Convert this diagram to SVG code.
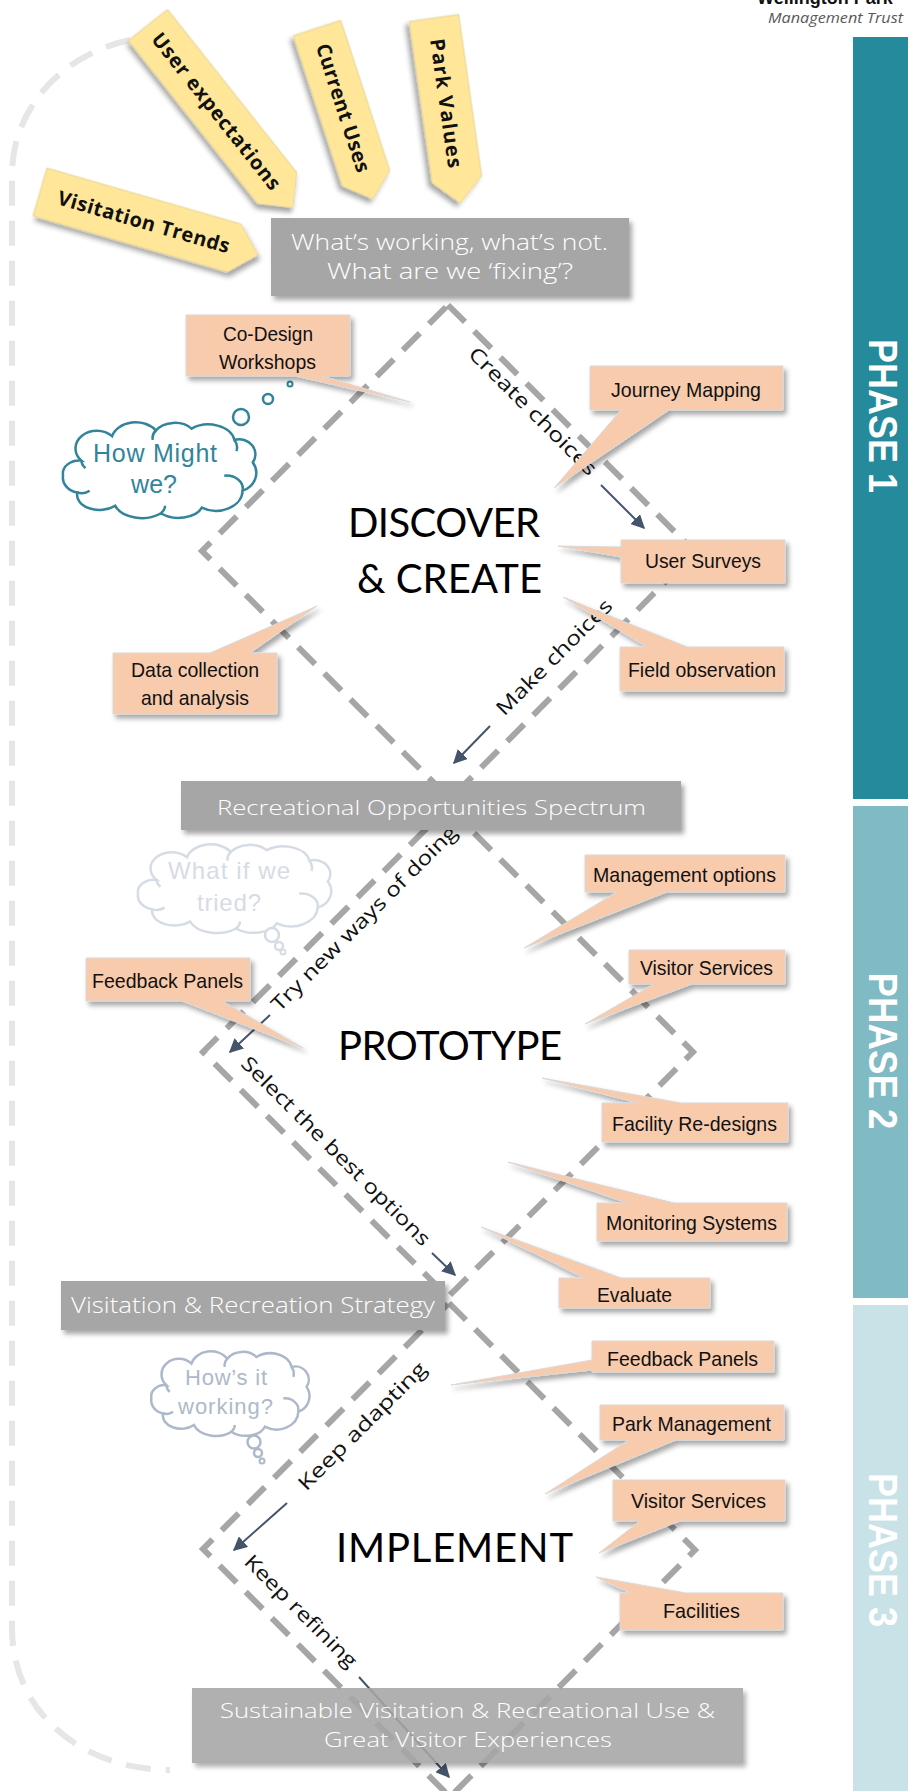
<svg xmlns="http://www.w3.org/2000/svg" width="908" height="1791" viewBox="0 0 908 1791">
<defs>
<style>
.gbox{fill:#A6A6A6;filter:url(#sh);}
.gtxt{fill:#FFFFFF;font-family:"Open Sans","Lato","Liberation Sans",sans-serif;font-weight:300;text-anchor:middle;}
.call{fill:#F8CBAD;stroke:#D9D9D9;stroke-width:1;filter:url(#sh);}
.ctxt{fill:#111;font-family:"Liberation Sans Narrow","Liberation Sans",Arial,sans-serif;font-size:21px;text-anchor:middle;}
.yel{fill:#FFE699;stroke:#E0D090;stroke-width:0.8;filter:url(#sh);}
.ytxt{fill:#111;font-family:"Open Sans","Liberation Sans",sans-serif;font-weight:700;font-size:20px;text-anchor:middle;}
.dia{fill:none;stroke:#A6A6A6;stroke-width:6;stroke-dasharray:24 13;}
.outer{fill:none;stroke:#E7E6E6;stroke-width:6;stroke-dasharray:25 15;}
.arr{fill:none;stroke:#44546A;stroke-width:2;marker-end:url(#ah);}
.dtxt{fill:#111;font-family:"Open Sans","Lato",sans-serif;font-size:20px;text-anchor:middle;}
.big{fill:#000;font-family:"Lato","Open Sans",sans-serif;font-size:40px;text-anchor:middle;}
.ptxt{fill:#FFFFFF;font-family:"Liberation Sans",Arial,sans-serif;font-weight:700;font-size:40px;text-anchor:middle;}
.cloudtxt{font-family:"Liberation Sans",Arial,sans-serif;text-anchor:middle;}
</style>
<filter id="sh" x="-20%" y="-30%" width="140%" height="170%">
<feDropShadow dx="3" dy="4" stdDeviation="2.5" flood-color="#000" flood-opacity="0.35"/>
</filter>
<marker id="ah" viewBox="0 0 10 10" refX="9" refY="5" markerWidth="7" markerHeight="7" orient="auto">
<path d="M0,0 L10,5 L0,10 Z" fill="#44546A"/>
</marker>
<g id="cloud">
<path vector-effect="non-scaling-stroke" fill="#FFFFFF" d="M22,40 A20,18 0 0 1 52,14 A24,20 0 0 1 95,8 A22,18 0 0 1 130,6 A26,20 0 0 1 172,18 A16,16 0 0 1 190,42 A20,20 0 0 1 180,72 A26,22 0 0 1 140,90 A24,16 0 0 1 100,96 A28,20 0 0 1 55,88 A22,16 0 0 1 18,74 A18,16 0 0 1 4,56 A16,14 0 0 1 22,40 Z"/>
<path vector-effect="non-scaling-stroke" fill="none" d="M22,40 A14,12 0 0 0 26,48 M95,8 A14,12 0 0 0 92,18 M172,18 A14,14 0 0 1 174,30 M180,72 A16,14 0 0 0 162,56 M100,96 A14,12 0 0 0 104,88 M18,74 A12,10 0 0 0 30,72"/>
</g>
</defs>

<rect x="0" y="0" width="908" height="1791" fill="#FFFFFF"/>

<!-- header -->
<g id="header">
<text x="757" y="4" font-family="Liberation Sans, Arial, sans-serif" font-weight="700" font-size="18" fill="#111">Wellington Park</text>
<text x="768" y="23" font-family="Open Sans, Liberation Sans, sans-serif" font-style="italic" font-size="15" fill="#595959" textLength="135" lengthAdjust="spacingAndGlyphs">Management Trust</text>
</g>

<!-- phase bars -->
<g id="phase1"><rect x="853" y="37" width="55" height="762" fill="#258A9C"/>
<text class="ptxt" transform="translate(869,416) rotate(90)" textLength="154" lengthAdjust="spacingAndGlyphs">PHASE 1</text></g>
<g id="phase2"><rect x="853" y="806" width="55" height="492" fill="#80BAC4"/>
<text class="ptxt" transform="translate(869,1051) rotate(90)" textLength="157" lengthAdjust="spacingAndGlyphs">PHASE 2</text></g>
<g id="phase3"><rect x="853" y="1305" width="55" height="486" fill="#C8E2E7"/>
<text class="ptxt" transform="translate(869,1550) rotate(90)" textLength="154" lengthAdjust="spacingAndGlyphs">PHASE 3</text></g>

<!-- outer loop -->
<path class="outer" d="M130,40 C60,55 12,110 12,175 L12,1630 C14,1720 90,1770 170,1770"/>

<!-- clouds -->
<g id="cloud-how-might">
<use href="#cloud" transform="translate(59,423) scale(1.02,0.94)" stroke="#31849B" stroke-width="2.5"/>
<circle cx="241" cy="417" r="8" fill="#fff" stroke="#31849B" stroke-width="2.5"/>
<circle cx="268" cy="399" r="5" fill="#fff" stroke="#31849B" stroke-width="2.5"/>
<circle cx="290" cy="384" r="2.5" fill="#fff" stroke="#31849B" stroke-width="2"/>
<text class="cloudtxt" x="155" y="462" font-size="25" fill="#31849B" textLength="124">How Might</text>
<text class="cloudtxt" x="154" y="493" font-size="25" fill="#31849B" textLength="46">we?</text>
</g>
<g id="cloud-what-if">
<use href="#cloud" transform="translate(134,845) scale(1.02,0.87)" stroke="#D6DCE5" stroke-width="2.5"/>
<circle cx="272" cy="935" r="7" fill="#fff" stroke="#D6DCE5" stroke-width="2.5"/>
<circle cx="279" cy="946" r="4" fill="#fff" stroke="#D6DCE5" stroke-width="2.5"/>
<circle cx="283" cy="952" r="2.5" fill="#fff" stroke="#D6DCE5" stroke-width="2"/>
<text class="cloudtxt" x="229" y="879" font-size="24" fill="#D6DCE5" textLength="122">What if we</text>
<text class="cloudtxt" x="229" y="911" font-size="24" fill="#D6DCE5" textLength="64">tried?</text>
</g>
<g id="cloud-hows-it">
<use href="#cloud" transform="translate(148,1352) scale(0.835,0.83)" stroke="#ADB9CA" stroke-width="2.5"/>
<circle cx="254" cy="1442" r="6.5" fill="#fff" stroke="#ADB9CA" stroke-width="2.5"/>
<circle cx="258" cy="1453" r="4" fill="#fff" stroke="#ADB9CA" stroke-width="2.5"/>
<circle cx="262" cy="1461" r="2.5" fill="#fff" stroke="#ADB9CA" stroke-width="2"/>
<text class="cloudtxt" x="226" y="1385" font-size="22" fill="#ADB9CA" textLength="82">How’s it</text>
<text class="cloudtxt" x="225.5" y="1414" font-size="22" fill="#ADB9CA" textLength="95">working?</text>
</g>

<!-- diamonds and flow arrows -->
<g id="connectors">
<polygon class="dia" points="448,305 695,552 450,799 202,551"/>
<polygon class="dia" points="448,807 693,1052 448,1297 203,1052"/>
<polygon class="dia" points="449,1303 695,1550 450,1797 203,1549"/>
<line class="arr" x1="601" y1="485" x2="644" y2="528"/>
<line class="arr" x1="490" y1="726" x2="454" y2="763"/>
<line class="arr" x1="270" y1="1015" x2="230" y2="1052"/>
<line class="arr" x1="432" y1="1253" x2="455" y2="1275"/>
<line class="arr" x1="287" y1="1503" x2="234" y2="1550"/>
<line class="arr" x1="359" y1="1677" x2="449" y2="1777"/>
<text class="dtxt" transform="translate(528,416) rotate(45)" textLength="172" lengthAdjust="spacingAndGlyphs">Create choices</text>
<text class="dtxt" transform="translate(559,662) rotate(-45)" textLength="155" lengthAdjust="spacingAndGlyphs">Make choices</text>
<text class="dtxt" transform="translate(369,923) rotate(-45)" textLength="253" lengthAdjust="spacingAndGlyphs">Try new ways of doing</text>
<text class="dtxt" transform="translate(331,1156) rotate(45)" textLength="258" lengthAdjust="spacingAndGlyphs">Select the best options</text>
<text class="dtxt" transform="translate(367,1431) rotate(-45)" textLength="172" lengthAdjust="spacingAndGlyphs">Keep adapting</text>
<text class="dtxt" transform="translate(296,1616) rotate(45)" textLength="150" lengthAdjust="spacingAndGlyphs">Keep refining</text>
</g>

<!-- yellow input arrows -->
<g id="user-expectations" transform="translate(148,25) rotate(51.6)">
<polygon class="yel" points="0,-25 208,-25 233,0 208,25 0,25"/>
<text class="ytxt" x="110" y="7" textLength="194">User expectations</text>
</g>
<g id="current-uses" transform="translate(317,28) rotate(71.9)">
<polygon class="yel" points="0,-25 158,-25 180,0 158,25 0,25"/>
<text class="ytxt" x="84" y="7" textLength="134">Current Uses</text>
</g>
<g id="park-values" transform="translate(434,18) rotate(81.9)">
<polygon class="yel" points="0,-25 163,-25 187,0 163,25 0,25"/>
<text class="ytxt" x="86" y="7" textLength="130">Park Values</text>
</g>
<g id="visitation-trends" transform="translate(40,192) rotate(16.1)">
<polygon class="yel" points="0,-25 202,-25 227,0 202,25 0,25"/>
<text class="ytxt" x="108" y="7" textLength="178">Visitation Trends</text>
</g>

<!-- gray stage boxes -->
<g id="whats-working">
<rect class="gbox" x="271" y="218" width="358" height="78"/>
<text class="gtxt" x="449.5" y="250" font-size="22" textLength="317" lengthAdjust="spacingAndGlyphs">What’s working, what’s not.</text>
<text class="gtxt" x="450" y="279" font-size="22" textLength="246" lengthAdjust="spacingAndGlyphs">What are we ‘fixing’?</text>
</g>
<g id="ros">
<rect class="gbox" x="181" y="781" width="500" height="49"/>
<text class="gtxt" x="431.5" y="815" font-size="21" textLength="429" lengthAdjust="spacingAndGlyphs">Recreational Opportunities Spectrum</text>
</g>
<g id="strategy">
<rect class="gbox" x="61" y="1281" width="384" height="49"/>
<text class="gtxt" x="253" y="1313" font-size="22" textLength="364" lengthAdjust="spacingAndGlyphs">Visitation &amp; Recreation Strategy</text>
</g>
<g id="sustainable">
<rect class="gbox" x="192" y="1688" width="551" height="75" opacity="0.88"/>
<text class="gtxt" x="467.5" y="1718" font-size="21" textLength="495" lengthAdjust="spacingAndGlyphs">Sustainable Visitation &amp; Recreational Use &amp;</text>
<text class="gtxt" x="468" y="1747" font-size="21" textLength="288" lengthAdjust="spacingAndGlyphs">Great Visitor Experiences</text>
</g>

<!-- stage titles -->
<g id="discover">
<text class="big" x="444" y="537" textLength="192">DISCOVER</text>
<text class="big" x="449.5" y="593" textLength="185">&amp; CREATE</text>
</g>
<g id="prototype"><text class="big" x="450" y="1060" textLength="224">PROTOTYPE</text></g>
<g id="implement"><text class="big" x="454.5" y="1562" textLength="237">IMPLEMENT</text></g>

<!-- callouts -->
<g id="co-design">
<path class="call" d="M186,315 H350 V376 H322 L410,402 L295,376 H186 Z"/>
<text class="ctxt" x="268" y="341" textLength="90" lengthAdjust="spacingAndGlyphs">Co-Design</text>
<text class="ctxt" x="267.5" y="369" textLength="97" lengthAdjust="spacingAndGlyphs">Workshops</text>
</g>
<g id="journey-mapping">
<path class="call" d="M590,366 H783 V410 H669 L554,488 L621,410 H590 Z"/>
<text class="ctxt" x="686" y="397" textLength="150" lengthAdjust="spacingAndGlyphs">Journey Mapping</text>
</g>
<g id="user-surveys">
<path class="call" d="M621,540 H785 V583 H621 V557 L558,546 L621,547 Z"/>
<text class="ctxt" x="703" y="568" textLength="116" lengthAdjust="spacingAndGlyphs">User Surveys</text>
</g>
<g id="field-observation">
<path class="call" d="M620,647 H647 L563,597 L687,647 H784 V691 H620 Z"/>
<text class="ctxt" x="702" y="677" textLength="148" lengthAdjust="spacingAndGlyphs">Field observation</text>
</g>
<g id="data-collection">
<path class="call" d="M113,653 H210 L317,606 L250,653 H277 V714 H113 Z"/>
<text class="ctxt" x="195" y="677" textLength="128" lengthAdjust="spacingAndGlyphs">Data collection</text>
<text class="ctxt" x="195" y="705" textLength="108" lengthAdjust="spacingAndGlyphs">and analysis</text>
</g>
<g id="management-options">
<path class="call" d="M585,855 H785 V892 H667 L524,948 L617,892 H585 Z"/>
<text class="ctxt" x="684.5" y="882" textLength="183" lengthAdjust="spacingAndGlyphs">Management options</text>
</g>
<g id="visitor-services-2">
<path class="call" d="M629,950 H785 V984 H692 L585,1024 L654,984 H629 Z"/>
<text class="ctxt" x="706.5" y="975" textLength="133" lengthAdjust="spacingAndGlyphs">Visitor Services</text>
</g>
<g id="facility-redesigns">
<path class="call" d="M602,1103 H638 L542,1078 L681,1103 H788 V1142 H602 Z"/>
<text class="ctxt" x="694.5" y="1131" textLength="165" lengthAdjust="spacingAndGlyphs">Facility Re-designs</text>
</g>
<g id="monitoring-systems">
<path class="call" d="M597,1203 H627 L508,1162 L674,1203 H787 V1241 H597 Z"/>
<text class="ctxt" x="691.5" y="1230" textLength="171" lengthAdjust="spacingAndGlyphs">Monitoring Systems</text>
</g>
<g id="evaluate">
<path class="call" d="M559,1278 H584 L481,1227 L621,1278 H710 V1308 H559 Z"/>
<text class="ctxt" x="634.5" y="1302" textLength="75" lengthAdjust="spacingAndGlyphs">Evaluate</text>
</g>
<g id="feedback-panels-3">
<path class="call" d="M592,1341 H774 V1372 H592 V1370 L451,1385 L592,1360 Z"/>
<text class="ctxt" x="682.5" y="1366" textLength="151" lengthAdjust="spacingAndGlyphs">Feedback Panels</text>
</g>
<g id="park-management">
<path class="call" d="M600,1405 H784 V1440 H676 L545,1494 L629,1440 H600 Z"/>
<text class="ctxt" x="691.5" y="1431" textLength="159" lengthAdjust="spacingAndGlyphs">Park Management</text>
</g>
<g id="visitor-services-3">
<path class="call" d="M613,1480 H785 V1521 H680 L599,1553 L640,1521 H613 Z"/>
<text class="ctxt" x="698.5" y="1508" textLength="135" lengthAdjust="spacingAndGlyphs">Visitor Services</text>
</g>
<g id="facilities">
<path class="call" d="M620,1593 H630 L596,1577 L686,1593 H783 V1630 H620 Z"/>
<text class="ctxt" x="701.5" y="1618" textLength="77" lengthAdjust="spacingAndGlyphs">Facilities</text>
</g>
<g id="feedback-panels-2">
<path class="call" d="M86,958 H250 V1001 H222 L303,1048 L182,1001 H86 Z"/>
<text class="ctxt" x="167.5" y="988" textLength="151" lengthAdjust="spacingAndGlyphs">Feedback Panels</text>
</g>
</svg>
